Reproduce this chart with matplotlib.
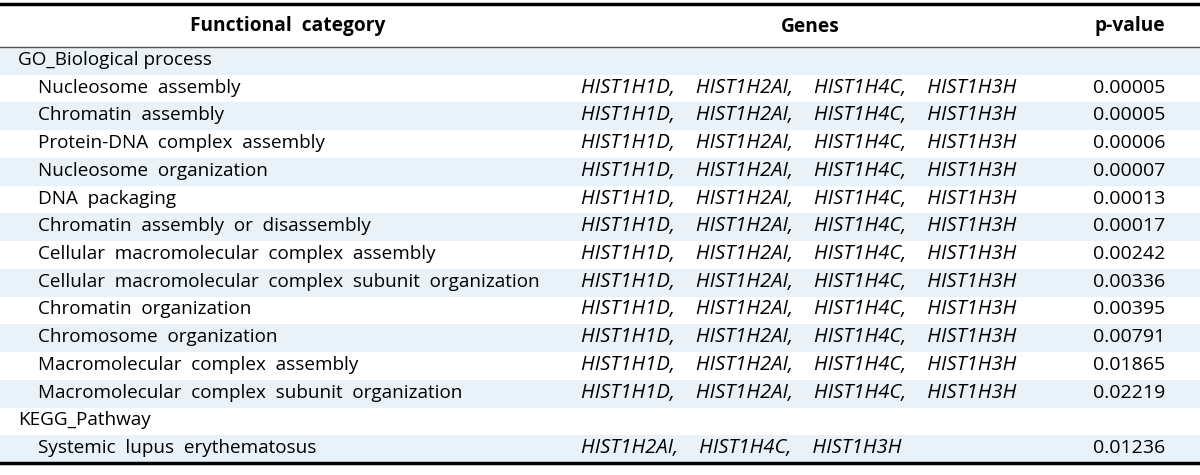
import matplotlib.pyplot as plt
from matplotlib.patches import Rectangle

# ---------table data---------
headers = ["Functional  category", "Genes", "p-value"]
groups = ["GO_Biological process", "KEGG_Pathway"]
go_terms = ["Nucleosome  assembly", "Chromatin  assembly", "Protein-DNA  complex  assembly",
            "Nucleosome  organization", "DNA  packaging", "Chromatin  assembly  or  disassembly",
            "Cellular  macromolecular  complex  assembly",
            "Cellular  macromolecular  complex  subunit  organization",
            "Chromatin  organization", "Chromosome  organization",
            "Macromolecular  complex  assembly", "Macromolecular  complex  subunit  organization"]
go_genes = ["HIST1H1D,    HIST1H2AI,    HIST1H4C,    HIST1H3H"] * 12
go_pvalues = ["0.00005", "0.00005", "0.00006", "0.00007", "0.00013", "0.00017",
              "0.00242", "0.00336", "0.00395", "0.00791", "0.01865", "0.02219"]
kegg_terms = ["Systemic  lupus  erythematosus"]
kegg_genes = ["HIST1H2AI,    HIST1H4C,    HIST1H3H"]
kegg_pvalues = ["0.01236"]

# rows: (text, genes, pvalue, is_group)
rows = [(groups[0], "", "", True)]
rows += [(t, g, p, False) for t, g, p in zip(go_terms, go_genes, go_pvalues)]
rows += [(groups[1], "", "", True)]
rows += [(t, g, p, False) for t, g, p in zip(kegg_terms, kegg_genes, kegg_pvalues)]

# ---------layout (pixel units)---------
W, H = 1200, 475
top, head_bot, bottom = 4, 47, 463
row_h = (bottom - head_bot) / len(rows)
shade = "#e9f1f9"
font = "Open Sans"
fs = 13.6

fig = plt.figure(figsize=(12, 4.75), dpi=100)
ax = fig.add_axes([0, 0, 1, 1])
ax.set_xlim(0, W)
ax.set_ylim(H, 0)
ax.axis("off")

# header
hy = (top + head_bot) / 2 + 1
ax.text(288, hy, headers[0], ha="center", va="center", fontsize=13.8, fontweight="bold", family=font)
ax.text(810, hy, headers[1], ha="center", va="center", fontsize=13.8, fontweight="bold", family=font)
ax.text(1130, hy, headers[2], ha="center", va="center", fontsize=13.8, fontweight="bold", family=font)

for i, (txt, genes, pv, is_group) in enumerate(rows):
    y0 = head_bot + i * row_h
    if i % 2 == 0:
        ax.add_patch(Rectangle((0, y0), W, row_h, color=shade, lw=0))
    yc = y0 + row_h / 2 - 1
    ax.text(18 if is_group else 38, yc, txt, ha="left", va="center", fontsize=fs, family=font)
    if genes:
        ax.text(581, yc, genes, ha="left", va="center", fontsize=14.5, style="italic", family=font)
    if pv:
        ax.text(1129, yc, pv, ha="center", va="center", fontsize=14, family=font)

ax.plot([0, W], [top, top], color="black", lw=2.5)
ax.plot([0, W], [head_bot, head_bot], color="#555555", lw=1)
ax.plot([0, W], [bottom, bottom], color="black", lw=2.5)

fig.savefig("out.png", dpi=100)
